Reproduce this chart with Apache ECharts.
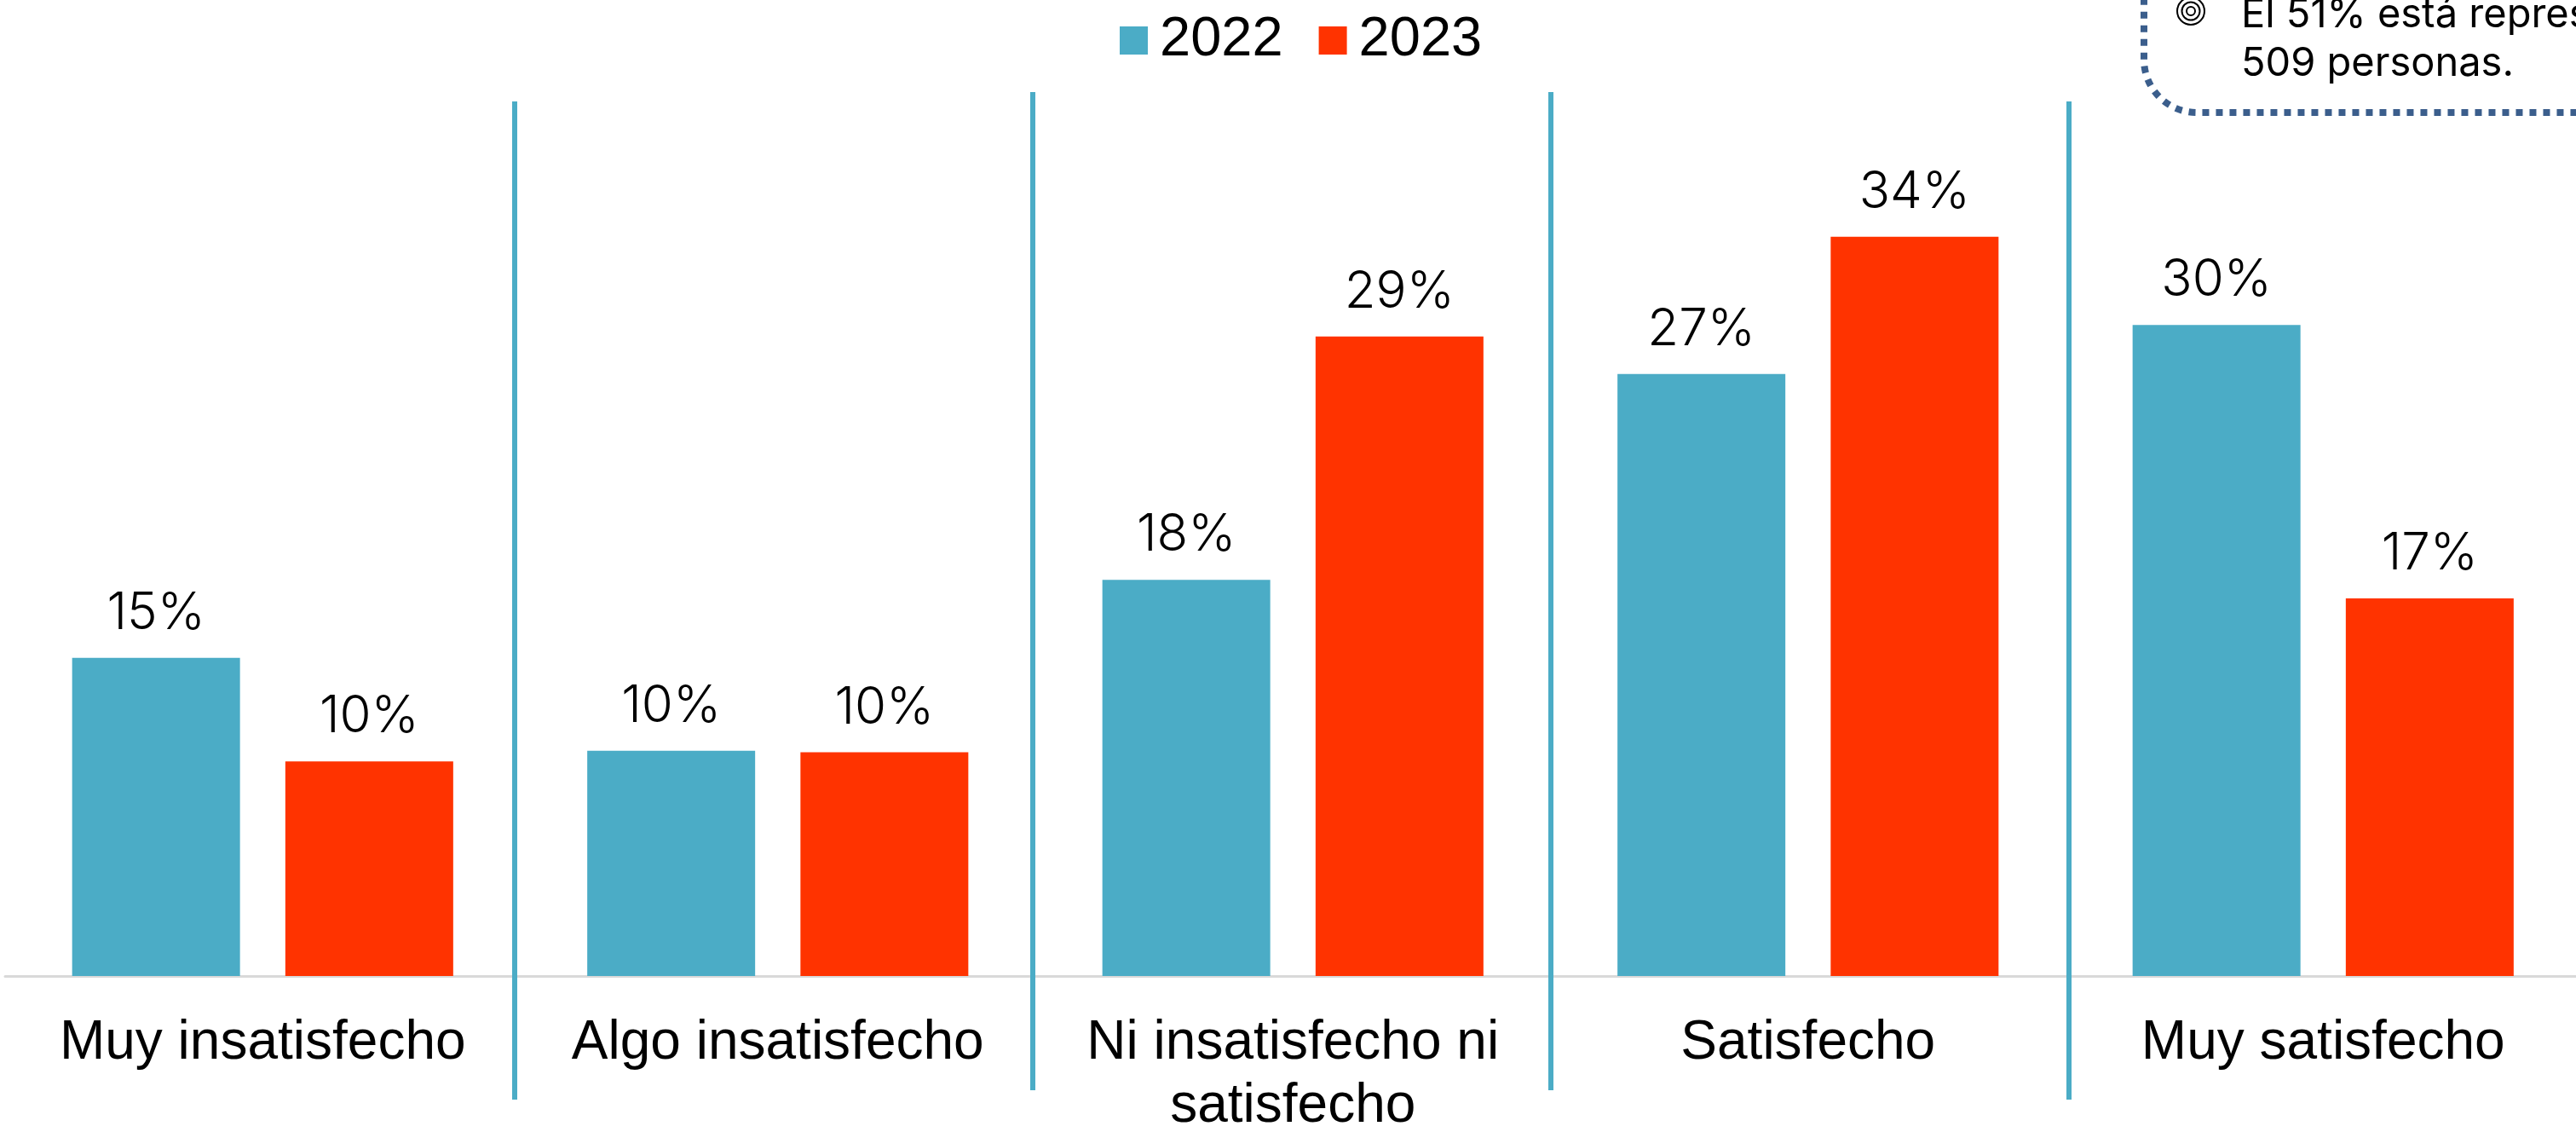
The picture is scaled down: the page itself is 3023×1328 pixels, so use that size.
<!DOCTYPE html>
<html><head><meta charset="utf-8">
<style>html,body{margin:0;padding:0;background:#fff;overflow:hidden}#c{width:3023px;height:1328px}</style>
<script src="https://cdn.jsdelivr.net/npm/echarts@6/dist/echarts.min.js"></script>
</head><body><div id="c"></div>
<script>
const categories = ['Muy insatisfecho','Algo insatisfecho','Ni insatisfecho ni\nsatisfecho','Satisfecho','Muy satisfecho'];
const years = ['2022','2023'];
const values2022 = [14.5,10.26,18.05,27.43,29.66];
const values2023 = [9.78,10.19,29.14,33.68,17.2];
const noteLines = ['El 51% está representado por','509 personas.'];
const TEAL='#4BACC6', RED='#FF3300', NAVY='#3B5E8C';
const gridLeft=6, band=604.5, gridTop=115, gridBottom=1145;
const sepX=[604,1212,1820,2428];
const sepExtents=[[119,1290],[108,1279],[108,1279],[119,1290]];
const labelFont='Inter';
const chart=echarts.init(document.getElementById('c'),null,{renderer:'canvas'});
const seps=sepExtents.map((e,i)=>({type:'line',z:5,shape:{x1:sepX[i],y1:e[0],x2:sepX[i],y2:e[1]},style:{stroke:TEAL,lineWidth:6}}));
function ser(name,data,color){return {name,type:'bar',data,barWidth:197,barGap:'27%',itemStyle:{color},
 label:{show:true,position:'top',distance:22,color:'#000',fontFamily:labelFont,fontWeight:300,fontSize:60,formatter:p=>Math.round(p.value)+'%'}};}
chart.setOption({
 animation:false,backgroundColor:'#fff',
 legend:{left:1314,top:15,padding:0,itemWidth:33,itemHeight:33,itemGap:42,icon:'rect',data:years,
  textStyle:{color:'#000',fontFamily:'Liberation Sans',fontSize:65,padding:[0,0,0,9]}},
 grid:{left:gridLeft,top:gridTop,width:band*5,height:gridBottom-gridTop,containLabel:false,outerBoundsMode:'none'},
 xAxis:{type:'category',data:categories,axisTick:{show:false},axisLine:{lineStyle:{color:'#D9D9D9',width:3}},
  axisLabel:{color:'#000',fontFamily:'Liberation Sans',fontSize:64,lineHeight:74,margin:42,interval:0}},
 yAxis:{type:'value',min:0,max:40,show:false,splitLine:{show:false}},
 series:[ser(years[0],values2022,TEAL),ser(years[1],values2023,RED)],
 graphic:[...seps,
  {type:'rect',shape:{x:2516,y:-300,width:1000,height:432,r:62},style:{fill:'none',stroke:NAVY,lineWidth:8,lineDash:[8,8]}},
  {type:'circle',shape:{cx:2571,cy:13,r:16},style:{fill:'none',stroke:'#000',lineWidth:2}},
  {type:'circle',shape:{cx:2571,cy:13,r:10.5},style:{fill:'none',stroke:'#000',lineWidth:2}},
  {type:'circle',shape:{cx:2571,cy:13,r:5},style:{fill:'none',stroke:'#000',lineWidth:2}},
  {type:'text',x:2630,y:18,style:{text:noteLines[0],fontFamily:'Inter',fontSize:47,fill:'#000',verticalAlign:'middle'}},
  {type:'text',x:2630,y:75,style:{text:noteLines[1],fontFamily:'Inter',fontSize:47,fill:'#000',verticalAlign:'middle'}}
 ]
});
</script></body></html>
